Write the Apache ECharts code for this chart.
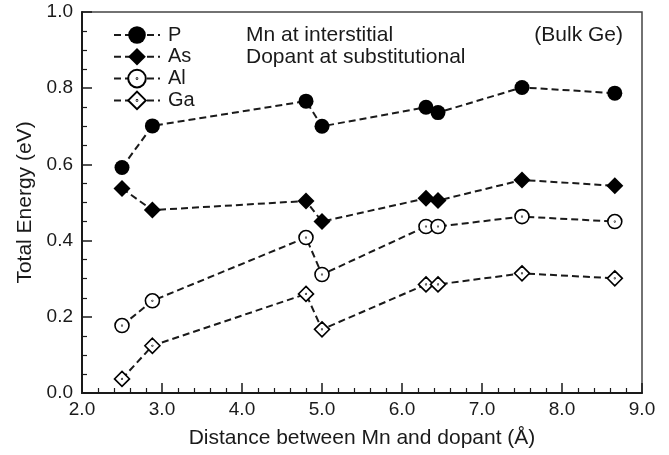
<!DOCTYPE html>
<html>
<head>
<meta charset="utf-8">
<script src="https://cdn.jsdelivr.net/npm/echarts@6/dist/echarts.min.js"></script>
<style>
  html, body { margin: 0; padding: 0; background: #fff; }
  #chart { width: 669px; height: 455px; }
</style>
</head>
<body>
<div id="chart"></div>
<script>
// distance between Mn and dopant (Å)
var distP = [2.5, 2.88, 4.8, 5.0, 6.3, 6.45, 7.5, 8.66];
var distAs = [2.5, 2.88, 4.8, 5.0, 6.3, 6.45, 7.5, 8.66];
var distAl = [2.5, 2.88, 4.8, 5.0, 6.3, 6.45, 7.5, 8.66];
var distGa = [2.5, 2.88, 4.8, 5.0, 6.3, 6.45, 7.5, 8.66];

// total energy (eV)
var energyP = [0.592, 0.701, 0.766, 0.700, 0.750, 0.736, 0.802, 0.787];
var energyAs = [0.537, 0.480, 0.504, 0.450, 0.511, 0.505, 0.559, 0.544];
var energyAl = [0.177, 0.242, 0.408, 0.311, 0.437, 0.437, 0.463, 0.450];
var energyGa = [0.037, 0.124, 0.260, 0.167, 0.285, 0.285, 0.314, 0.301];

var seriesNames = ['P', 'As', 'Al', 'Ga'];

function pairs(xs, ys) {
  return xs.map(function (x, i) { return [x, ys[i]]; });
}

var font = '"Liberation Sans", Arial, Helvetica, sans-serif';
var ink = '#1a1a1a';

// open markers with a small dot in the middle
var dotCircle = 'path://M0,10 A10,10 0 1,1 20,10 A10,10 0 1,1 0,10 Z M9.6,10 A0.4,0.4 0 1,1 10.4,10 A0.4,0.4 0 1,1 9.6,10 Z';
var dotDiamond = 'path://M10,0 L20,10 L10,20 L0,10 Z M9.6,10 A0.4,0.4 0 1,1 10.4,10 A0.4,0.4 0 1,1 9.6,10 Z';

var dashed = { color: ink, width: 2, type: [7, 4] };

var chart = echarts.init(document.getElementById('chart'));

var option = {
  backgroundColor: '#fff',
  animation: false,
  textStyle: { fontFamily: font, color: ink },
  grid: {
    left: 82, right: 27, top: 12, bottom: 62,
    show: true, borderColor: '#444', borderWidth: 1.5
  },
  legend: {
    orient: 'vertical',
    left: 108, top: 20,
    itemWidth: 46, itemHeight: 22, itemGap: 1.8,
    textStyle: { fontFamily: font, fontSize: 20, color: ink, padding: [0, 0, 0, 3] },
    data: seriesNames
  },
  graphic: [
    { type: 'text', left: 246, top: 25, style: { text: 'Mn at interstitial', font: '21px ' + font, fill: ink } },
    { type: 'text', left: 246, top: 47, style: { text: 'Dopant at substitutional', font: '21px ' + font, fill: ink } },
    { type: 'text', right: 46, top: 25, style: { text: '(Bulk Ge)', font: '21px ' + font, fill: ink } }
  ],
  xAxis: {
    type: 'value', min: 2, max: 9, interval: 1,
    name: 'Distance between Mn and dopant (Å)',
    nameLocation: 'middle', nameGap: 35,
    nameTextStyle: { fontSize: 21, color: ink, fontFamily: font },
    axisLine: { show: true, lineStyle: { color: ink, width: 2 } },
    axisTick: { inside: true, length: 10, lineStyle: { color: ink, width: 1.5 } },
    minorTick: { show: true, splitNumber: 5, length: 5, lineStyle: { color: ink, width: 1.2 } },
    splitLine: { show: false },
    axisLabel: { fontSize: 19, color: ink, margin: 7, formatter: function (v) { return v.toFixed(1); } }
  },
  yAxis: {
    type: 'value', min: 0, max: 1, interval: 0.2,
    name: 'Total Energy (eV)',
    nameLocation: 'middle', nameGap: 46,
    nameTextStyle: { fontSize: 21, color: ink, fontFamily: font },
    axisLine: { show: true, lineStyle: { color: ink, width: 2 } },
    axisTick: { inside: true, length: 10, lineStyle: { color: ink, width: 1.5 } },
    minorTick: { show: true, splitNumber: 4, length: 5, lineStyle: { color: ink, width: 1.2 } },
    splitLine: { show: false },
    axisLabel: { fontSize: 19, color: ink, margin: 9, formatter: function (v) { return v.toFixed(1); } }
  },
  series: [
    {
      name: 'P', type: 'line', data: pairs(distP, energyP),
      symbol: 'circle', symbolSize: 15,
      itemStyle: { color: '#000' }, lineStyle: dashed
    },
    {
      name: 'As', type: 'line', data: pairs(distAs, energyAs),
      symbol: 'diamond', symbolSize: 17,
      itemStyle: { color: '#000' }, lineStyle: dashed
    },
    {
      name: 'Al', type: 'line', data: pairs(distAl, energyAl),
      symbol: dotCircle, symbolSize: 14,
      itemStyle: { color: '#fff', borderColor: '#000', borderWidth: 1.6 }, lineStyle: dashed
    },
    {
      name: 'Ga', type: 'line', data: pairs(distGa, energyGa),
      symbol: dotDiamond, symbolSize: 15,
      itemStyle: { color: '#fff', borderColor: '#000', borderWidth: 1.6 }, lineStyle: dashed
    }
  ]
};

chart.setOption(option);
</script>
</body>
</html>
